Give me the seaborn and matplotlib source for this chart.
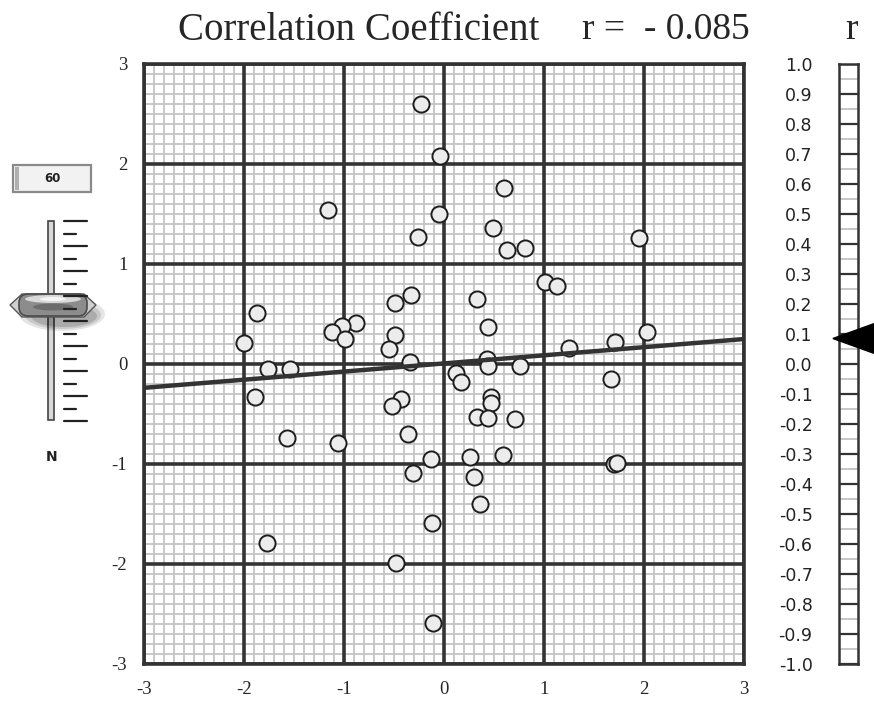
import numpy as np
import pandas as pd
import seaborn as sns
import matplotlib.pyplot as plt
from matplotlib.patches import Rectangle, Ellipse, FancyBboxPatch, Polygon
from matplotlib.ticker import MultipleLocator
from matplotlib.transforms import blended_transform_factory

# values
x_vals = [-0.23, -0.04, 0.60, -1.16, -0.05, 0.49, -0.26, 1.95, 0.63, 0.81,
          1.01, 1.13, -1.87, 0.33, -0.33, -0.49, -0.88, -1.02, -1.12, -0.99,
          0.44, -0.49, -0.55, -2.00, 1.25, 1.71, 2.03, -0.34, 0.43, 0.44,
          -1.76, -1.54, 0.12, 0.17, 0.76, 1.67, -1.89, -0.43, -0.52, 0.47,
          0.47, 0.33, 0.44, 0.71, -0.36, -1.57, -1.06, 0.59, -0.13, 0.26,
          -0.31, 0.30, 1.70, 1.73, 0.36, -0.12, -1.77, -0.48, -0.11]
y_vals = [2.60, 2.08, 1.76, 1.54, 1.50, 1.36, 1.27, 1.26, 1.14, 1.16,
          0.82, 0.78, 0.51, 0.65, 0.69, 0.61, 0.41, 0.38, 0.32, 0.25,
          0.37, 0.29, 0.15, 0.21, 0.16, 0.22, 0.32, 0.02, 0.05, -0.02,
          -0.05, -0.05, -0.09, -0.18, -0.02, -0.15, -0.33, -0.35, -0.42, -0.33,
          -0.39, -0.53, -0.54, -0.55, -0.70, -0.74, -0.79, -0.91, -0.95, -0.93,
          -1.09, -1.13, -1.00, -0.99, -1.40, -1.59, -1.79, -1.99, -2.59]
n_value = 60
r_value = 0.085
title_left = "Correlation Coefficient"
title_right = "r =  - 0.085"
r_ticks = [round(v, 1) + 0.0 for v in np.arange(-1.0, 1.01, 0.1)]
axis_ticks = [-3, -2, -1, 0, 1, 2, 3]

df = pd.DataFrame({"x": x_vals, "y": y_vals})

sns.set_style("white")
plt.rcParams["axes.unicode_minus"] = False
W, H = 874, 709
fig = plt.figure(figsize=(W / 100, H / 100), dpi=100)

# main scatter
ax = fig.add_axes([144 / W, 1 - 664 / H, 600 / W, 600 / H])
ax.set_xlim(-3, 3)
ax.set_ylim(-3, 3)
ax.set_xticks(axis_ticks)
ax.set_yticks(axis_ticks)
ax.xaxis.set_minor_locator(MultipleLocator(0.1))
ax.yaxis.set_minor_locator(MultipleLocator(0.1))
ax.grid(which="minor", color="#c4c4c4", lw=1.3)
ax.set_axisbelow(True)
for t in axis_ticks:
    ax.axvline(t, color="#333333", lw=2.6, zorder=1.5)
    ax.axhline(t, color="#333333", lw=2.6, zorder=1.5)
for s in ax.spines.values():
    s.set_color("#333333")
    s.set_linewidth(2.6)
ax.tick_params(which="major", direction="out", length=6, width=1.6,
               color="#333333", pad=6, labelsize=13.5)
ax.tick_params(which="minor", length=0)
for lab in ax.get_xticklabels() + ax.get_yticklabels():
    lab.set_fontfamily("Liberation Serif")

sns.scatterplot(data=df, x="x", y="y", ax=ax, s=135, color="#ececec",
                edgecolor="#1e1e1e", linewidth=1.4, zorder=3)
sns.regplot(data=df, x="x", y="y", ax=ax, scatter=False, ci=None,
            truncate=False, line_kws={"color": "#333333", "lw": 3.2, "zorder": 4})
ax.set_xlim(-3, 3)
ax.set_ylim(-3, 3)
ax.set_xlabel("")
ax.set_ylabel("")

# title
fig.text(178 / W, 1 - 30 / H, title_left, family="Liberation Serif", fontsize=28,
         ha="left", va="center")
fig.text(582 / W, 1 - 30 / H, title_right, family="Liberation Serif", fontsize=27,
         ha="left", va="center")
fig.text(852 / W, 1 - 30 / H, "r", family="Liberation Serif", fontsize=27,
         ha="center", va="center")

# r scale
axr = fig.add_axes([839 / W, 1 - 664 / H, 19 / W, 600 / H])
axr.set_xlim(0, 1)
axr.set_ylim(-1, 1)
axr.set_xticks([])
axr.set_yticks(r_ticks)
axr.set_yticklabels([f"{v:.1f}" for v in r_ticks], family="DejaVu Sans", fontsize=12.5,
                    color="#222222")
axr.tick_params(axis="y", length=16, width=1.6, color="#333333", pad=3)
for v in r_ticks:
    axr.axhline(v, color="#333333", lw=1.6)
for v in np.arange(-0.95, 1.0, 0.1):
    axr.axhline(v, color="#bdbdbd", lw=1.2)
for s in axr.spines.values():
    s.set_color("#333333")
    s.set_linewidth(1.8)
tr = blended_transform_factory(axr.transAxes, axr.transData)
axr.add_patch(Polygon([[-0.32, r_value], [2.3, r_value + 0.06], [2.3, r_value - 0.06]],
                      closed=True, transform=tr, clip_on=False, color="black", zorder=5))

# N slider decoration
deco = fig.add_axes([0, 0, 1, 1], zorder=-1)
deco.set_xlim(0, W)
deco.set_ylim(H, 0)
deco.axis("off")
deco.add_patch(Rectangle((13, 165), 78, 27, fc="#f2f2f2", ec="#8a8a8a", lw=1.6))
deco.add_patch(Rectangle((15, 167), 4, 23, fc="#b0b0b0", ec="none"))
deco.text(52, 179, str(n_value), fontsize=8.5, fontweight="bold", ha="center",
          va="center", color="#222222")
deco.add_patch(Rectangle((48, 221), 6, 199, fc="#d8d8d8", ec="#444444", lw=1.2))
for i in range(17):
    yy = 221 + 12.5 * i
    x_end = 87 if i % 2 == 0 else 76
    deco.plot([64, x_end], [yy, yy], color="#222222", lw=1.6)
for k, a in enumerate([0.10, 0.12, 0.15]):
    deco.add_patch(Ellipse((62 + k, 314 + k), 86 - 10 * k, 34 - 6 * k, fc="#000000",
                           alpha=a, ec="none"))
deco.add_patch(Polygon([[10, 305], [22, 294], [84, 294], [96, 305], [84, 317], [22, 317]],
                       closed=True, fc="#cfcfcf", ec="#555555", lw=1.0))
deco.add_patch(FancyBboxPatch((20, 295), 66, 20, boxstyle="round,pad=1,rounding_size=9",
                              fc="#8c8c8c", ec="#4a4a4a", lw=1.2))
deco.add_patch(Ellipse((53, 299), 56, 8, fc="#d9d9d9", ec="none"))
deco.add_patch(Ellipse((53, 307), 40, 7, fc="#6c6c6c", ec="none"))
deco.add_patch(Ellipse((53, 299), 26, 4, fc="#f5f5f5", ec="none"))
deco.text(52, 457, "N", fontsize=10, fontweight="bold", ha="center", va="center",
          color="#222222")

fig.savefig("out.png", dpi=100, facecolor="white")
